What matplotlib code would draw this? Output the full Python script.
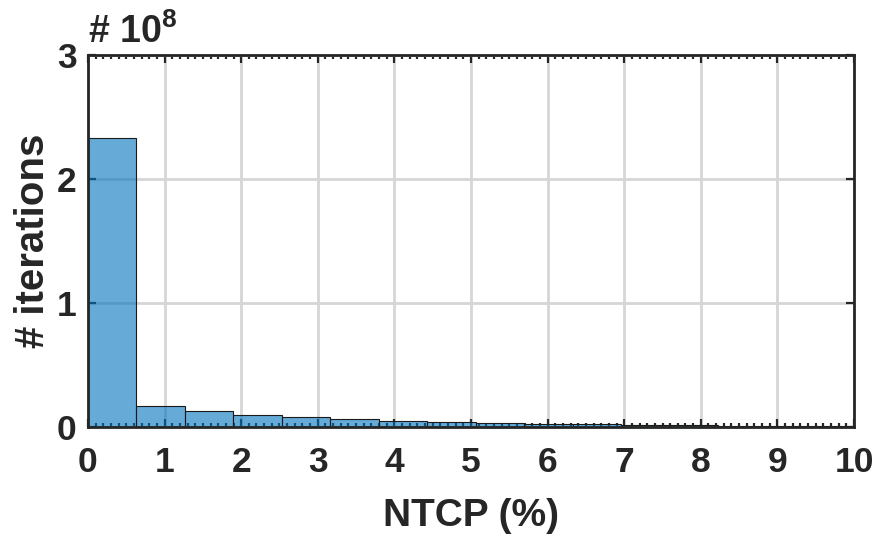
import numpy as np
import matplotlib
matplotlib.use('Agg')
from matplotlib import pyplot as plt
from matplotlib.ticker import MultipleLocator

plt.rcParams['font.family'] = ['Liberation Sans', 'DejaVu Sans']
plt.rcParams['font.weight'] = 'bold'
plt.rcParams['mathtext.fontset'] = 'custom'
plt.rcParams['mathtext.rm'] = 'Liberation Sans:bold'
plt.rcParams['mathtext.bf'] = 'Liberation Sans:bold'

# histogram of NTCP values, counts in units of 1e8
bin_width = 0.633
counts = [2.33, 0.17, 0.13, 0.097, 0.078, 0.065, 0.051, 0.043,
          0.035, 0.028, 0.022, 0.018, 0.014, 0.011, 0.008, 0.006]
x_ticks = [0, 1, 2, 3, 4, 5, 6, 7, 8, 9, 10]
y_ticks = [0, 1, 2, 3]

edges = bin_width*np.arange(len(counts))

fig = plt.figure(figsize=(8.77, 5.38), dpi=100)
ax = fig.add_axes([0.1003, 0.2063, 0.8735, 0.6915])

ax.bar(edges, counts, width=bin_width, align='edge',
       facecolor=(0, 0.447, 0.741, 0.6), edgecolor='#1a1a1a', linewidth=0.8, zorder=2)

ax.set_xlim(0, 10)
ax.set_ylim(0, 3)
ax.set_xticks(x_ticks)
ax.set_yticks(y_ticks)
ax.xaxis.set_minor_locator(MultipleLocator(0.1))
ax.grid(True, which='major', color='#d6d6d6', linewidth=2, zorder=0)
ax.set_axisbelow(True)

for s in ax.spines.values():
    s.set_linewidth(2)
    s.set_color('#262626')
ax.tick_params(which='both', direction='in', top=True, right=True,
               color='#262626', width=1.6)
ax.tick_params(which='major', length=6, labelsize=25.5, labelcolor='#262626')
ax.tick_params(axis='x', which='major', pad=14)
ax.tick_params(axis='y', which='major', pad=8)
ax.tick_params(which='minor', length=3)

ax.set_xlabel('NTCP (%)', fontsize=28, fontweight='bold', color='#262626', labelpad=13)
ax.set_ylabel('# iterations', fontsize=29, fontweight='bold', color='#262626', labelpad=4)
ax.text(0, 1.01, '# 10$^{8}$', transform=ax.transAxes, fontsize=27,
        fontweight='bold', color='#262626', ha='left', va='bottom')

plt.savefig('out.png', dpi=100)
